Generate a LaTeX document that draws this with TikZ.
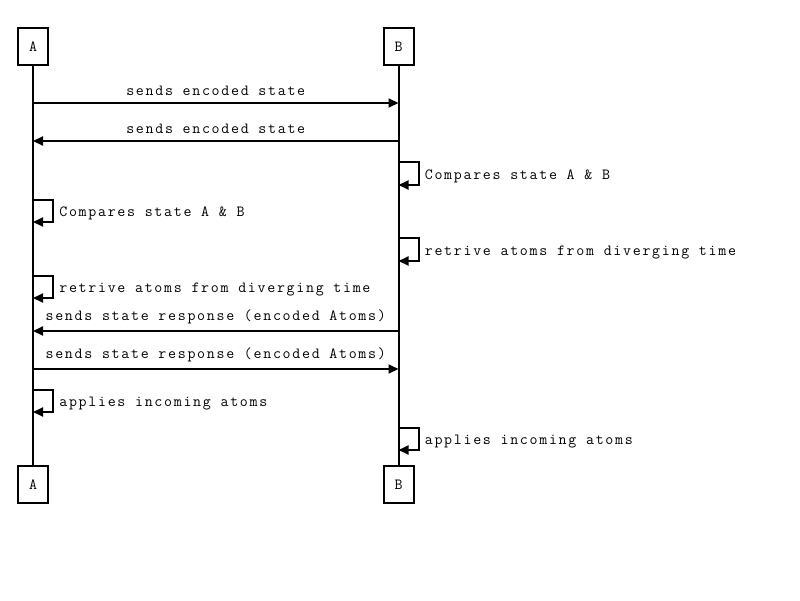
\documentclass[tikz,border=0pt]{standalone}
\usepackage{fontspec}
\setmonofont[LetterSpace=11]{Latin Modern Mono}
\usetikzlibrary{arrows.meta}

\begin{document}
\begin{tikzpicture}[x=1pt, y=-1pt, line width=2pt, font=\ttfamily\fontsize{15.5}{18}\selectfont]
    \tikzstyle{actor} = [draw, rectangle, minimum width=30pt, minimum height=37pt, inner sep=0pt]
    \tikzstyle{msg} = [-{Triangle[length=10pt, width=9pt]}]
    \tikzstyle{note} = [pos=.25, right=2pt, yshift=-2.5pt]
    \useasboundingbox (0,0) rectangle (800,600);
    \node (a) [actor] at (33, 46.5) {A};
    \node (b) [actor] at (398.5, 46.5) {B};
    \node (a') [actor] at (33, 484.5) {A};
    \node (b') [actor] at (398.5, 484.5) {B};
      \draw (a) -- (a');
      \draw (b) -- (b');
    % messages
    \coordinate (a1) at (33, 103);  \coordinate (b1) at (398.5, 103);
    \coordinate (a2) at (33, 141);  \coordinate (b2) at (398.5, 141);
    \coordinate (a3) at (33, 331);  \coordinate (b3) at (398.5, 331);
    \coordinate (a4) at (33, 369);  \coordinate (b4) at (398.5, 369);
      \draw [msg] (a1) -- (b1) node[pos=.5, above=3pt] {sends encoded state};
      \draw [msg] (b2) -- (a2) node[pos=.5, above=3pt] {sends encoded state};
      \draw [msg] (b3) -- (a3) node[pos=.5, above=3pt] {sends state response (encoded Atoms)};
      \draw [msg] (a4) -- (b4) node[pos=.5, above=3pt] {sends state response (encoded Atoms)};
    % self calls
    \coordinate (bs1) at (398.5, 162); \coordinate (be1) at (398.5, 185);
    \coordinate (as1) at (33, 200);    \coordinate (ae1) at (33, 222);
    \coordinate (bs2) at (398.5, 238); \coordinate (be2) at (398.5, 261);
    \coordinate (as2) at (33, 276);    \coordinate (ae2) at (33, 298);
    \coordinate (as3) at (33, 390);    \coordinate (ae3) at (33, 412);
    \coordinate (bs3) at (398.5, 428); \coordinate (be3) at (398.5, 450);
      \draw [msg] (bs1) -- ++(20,0) |- (be1) node[note] {Compares state A \& B};
      \draw [msg] (as1) -- ++(20,0) |- (ae1) node[note] {Compares state A \& B};
      \draw [msg] (bs2) -- ++(20,0) |- (be2) node[note] {retrive atoms from diverging time};
      \draw [msg] (as2) -- ++(20,0) |- (ae2) node[note] {retrive atoms from diverging time};
      \draw [msg] (as3) -- ++(20,0) |- (ae3) node[note] {applies incoming atoms};
      \draw [msg] (bs3) -- ++(20,0) |- (be3) node[note] {applies incoming atoms};
  \end{tikzpicture}
\end{document}
